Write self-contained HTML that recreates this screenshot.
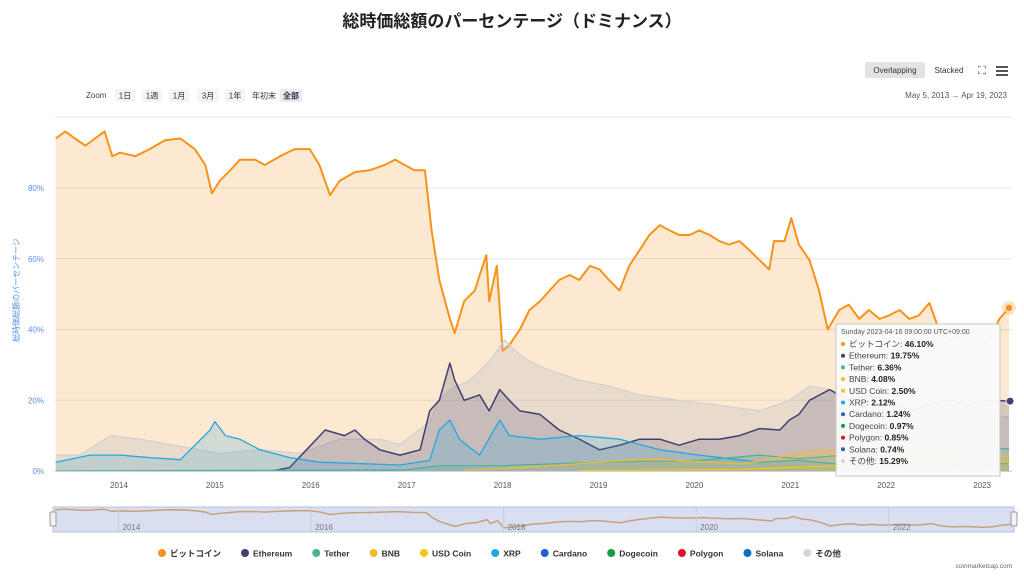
<!DOCTYPE html>
<html><head><meta charset="utf-8">
<style>
body{margin:0;background:#fff;font-family:"Liberation Sans","Noto Sans CJK JP",sans-serif;}
#wrap{position:relative;width:1024px;height:588px;overflow:hidden;}
svg text{font-family:"Liberation Sans","Noto Sans CJK JP",sans-serif;}
</style></head>
<body>
<div id="wrap">
<svg id="chart" width="1024" height="588"></svg>
</div>
<script>
const btcYears=[2013.34,2013.44,2013.54,2013.65,2013.75,2013.85,2013.93,2014.01,2014.17,2014.32,2014.48,2014.64,2014.79,2014.90,2014.97,2015.05,2015.16,2015.26,2015.42,2015.52,2015.68,2015.83,2015.99,2016.09,2016.20,2016.30,2016.46,2016.61,2016.77,2016.88,2016.98,2017.08,2017.19,2017.26,2017.34,2017.45,2017.50,2017.60,2017.71,2017.78,2017.83,2017.86,2017.94,2018.00,2018.07,2018.18,2018.28,2018.39,2018.49,2018.59,2018.70,2018.80,2018.91,2019.01,2019.11,2019.22,2019.32,2019.43,2019.53,2019.64,2019.74,2019.84,2019.95,2020.05,2020.16,2020.26,2020.36,2020.47,2020.57,2020.68,2020.78,2020.83,2020.94,2021.01,2021.09,2021.20,2021.30,2021.39,2021.51,2021.61,2021.72,2021.82,2021.93,2022.03,2022.14,2022.24,2022.34,2022.45,2022.55,2022.66,2022.76,2022.86,2022.97,2023.07,2023.18,2023.28];
const btcValues=[94,96,94,92,94,96,89,90,89,91,93.5,94,91,86.5,78.5,82,85,88,88,86.5,89,91,91,86.5,78,82,84.5,85,86.5,88,86.5,85,85,68,54,43,39,48,51,57,61,48,58,34,35.6,40,45.5,48,51,54,55.4,54,58,57,54,51,58,62.5,66.7,69.5,68,66.7,66.7,68,66.7,65,64,65,62.5,59.6,57,65,65,71.5,64,59.6,51,40,45.5,47,43,45.5,43,44,45.5,43,44,47.5,40,37,38.5,37.6,35.6,37,43,46.1];
const ethYears=[2015.60,2015.78,2016.15,2016.35,2016.46,2016.56,2016.72,2016.93,2017.14,2017.24,2017.34,2017.45,2017.50,2017.60,2017.76,2017.86,2017.97,2018.07,2018.18,2018.39,2018.59,2018.80,2019.01,2019.22,2019.43,2019.64,2019.84,2020.05,2020.26,2020.47,2020.68,2020.89,2020.99,2021.09,2021.20,2021.41,2021.61,2021.82,2022.03,2022.24,2022.45,2022.66,2022.86,2023.07,2023.28];
const ethValues=[0,1,11.6,10,11.6,9,6,4.5,6,17,20,30.5,25.7,20,21.5,17,23,20,17,16,11.6,9,6,7.3,9,9,7.3,9,9,10,12,11.6,14.4,16,20,23,20,21.5,20,17,18.6,20,18.6,20,19.75];
const otherYears=[2013.34,2013.59,2013.91,2014.22,2014.64,2015.05,2015.47,2015.89,2016.30,2016.72,2016.93,2017.24,2017.34,2017.45,2017.66,2017.86,2018.02,2018.13,2018.28,2018.49,2018.80,2019.11,2019.43,2019.84,2020.26,2020.68,2020.99,2021.20,2021.41,2021.72,2022.14,2022.66,2023.28];
const otherValues=[4.5,4.5,10,9,7,5,6,5,9,9,7.5,14,20,23,25.7,31,37,34,31,28.5,25.7,24,21.5,20,18.6,17,20,24,23,20,18.6,17,15.29];
const xrpYears=[2013.34,2013.70,2014.01,2014.32,2014.64,2014.95,2015.00,2015.11,2015.26,2015.47,2015.78,2016.09,2016.93,2017.24,2017.34,2017.45,2017.55,2017.76,2017.97,2018.07,2018.39,2018.80,2019.22,2019.64,2020.05,2020.68,2021.09,2021.61,2023.28];
const xrpValues=[2.5,4.5,4.5,3.8,3.2,11.6,14,10,9,6,3.8,2.5,1.7,3,11.6,14.4,9,4.5,14.4,10,9,10,9,6,4.5,2.5,3,1.7,2.12];
const usdtYears=[2013.34,2017.0,2017.34,2017.97,2019.01,2020.05,2020.68,2021.09,2021.82,2022.66,2023.28];
const usdtValues=[0,0.3,1.5,1.5,2.5,3,4.5,3.5,5,6,6.36];
const bnbYears=[2017.6,2018.5,2019.5,2020.5,2021.3,2022.0,2023.28];
const bnbValues=[0.2,1.5,3.5,2,6,4.5,4.08];
const usdcYears=[2018.8,2020.5,2021.5,2022.4,2023.28];
const usdcValues=[0.1,0.5,1.5,4.5,2.5];
const yTicks=[0,20,40,60,80];
const xTicks=[2014,2015,2016,2017,2018,2019,2020,2021,2022,2023];
const navTicks=[2014,2016,2018,2020,2022];
const legendNames=["ビットコイン","Ethereum","Tether","BNB","USD Coin","XRP","Cardano","Dogecoin","Polygon","Solana","その他"];
const legendColors=["#f7931a","#3f3f72","#50af95","#f3ba2f","#f5c518","#23a7e0","#2060d0","#1a9a3a","#e0102a","#1070c0","#d6d6d6"];
const tipValues=["46.10%","19.75%","6.36%","4.08%","2.50%","2.12%","1.24%","0.97%","0.85%","0.74%","15.29%"];

const NS="http://www.w3.org/2000/svg";
const svg=document.getElementById('chart');
function el(tag,attrs,parent){const e=document.createElementNS(NS,tag);for(const k in attrs)e.setAttribute(k,attrs[k]);(parent||svg).appendChild(e);return e;}
function tx(x,y,s,attrs,parent){const e=el('text',Object.assign({x:x,y:y},attrs),parent);e.textContent=s;return e;}
const X=y=>119+(y-2014)*95.9;
const Y=v=>471-v*3.5375;

const title=tx(512,27,"総時価総額のパーセンテージ（ドミナンス）",{'text-anchor':'middle','font-size':'17','font-weight':'bold',fill:'#222'});



// gridlines
yTicks.concat([100]).forEach(v=>{
 const g=el('line',{x1:55,x2:1012,y1:Y(v),y2:Y(v),stroke:'#e6e6e6','stroke-width':1});
 
 
});
yTicks.forEach(v=>{
 const t=tx(44,Y(v)+3,v+'%',{'text-anchor':'end','font-size':'8',fill:'#5a8ee6'});
 
 
});
const yt=tx(0,0,"総時価総額のパーセンテージ",{'font-size':'8',fill:'#5a8ee6','text-anchor':'middle',transform:'translate(19,290) rotate(-90)'});



function series(years,vals,color,fill,name,w){
 let d='';years.forEach((yy,i)=>{d+=(i?'L':'M')+X(yy).toFixed(1)+','+Y(vals[i]).toFixed(1);});
 const a=el('path',{d:d+'L'+X(years[years.length-1]).toFixed(1)+','+Y(0)+'L'+X(years[0]).toFixed(1)+','+Y(0)+'Z',fill:fill,stroke:'none'});
 
 
 const l=el('path',{d:d,fill:'none',stroke:color,'stroke-width':w||1.5,'stroke-linejoin':'round'});
 
 
}
series(btcYears,btcValues,'#f7931a','rgba(247,147,26,0.2)','bitcoin',2);
series(otherYears,otherValues,'#d0d0d0','rgba(190,190,190,0.3)','others',1.2);
series(ethYears,ethValues,'#3f3f72','rgba(63,63,114,0.2)','ethereum',1.5);
series(xrpYears,xrpValues,'#23a7e0','rgba(35,167,224,0.2)','xrp',1.3);
series(usdtYears,usdtValues,'#50af95','rgba(80,175,149,0.2)','tether',1.2);
series(bnbYears,bnbValues,'#f3ba2f','rgba(243,186,47,0.2)','bnb',1.2);
series(usdcYears,usdcValues,'#f5c518','rgba(245,197,24,0.2)','usd-coin',1.2);

el('line',{x1:55,x2:1012,y1:471.5,y2:471.5,stroke:'#ccd6eb'});
xTicks.forEach(y=>{
 const t=tx(X(y),488,String(y),{'text-anchor':'middle','font-size':'8',fill:'#555'});
 
 
});

// end markers
const last=btcValues.length-1;
const m=el('circle',{cx:X(btcYears[last]),cy:Y(btcValues[last]),r:4,fill:'#f7931a',stroke:'#fff','stroke-width':1.5});


el('circle',{cx:X(btcYears[last]),cy:Y(btcValues[last]),r:7,fill:'rgba(247,147,26,0.25)'});
const em=el('circle',{cx:1010,cy:Y(ethValues[ethValues.length-1]),r:4,fill:'#3f3f72',stroke:'#fff'});



// controls
const zl=tx(86,98,'Zoom',{'font-size':'8',fill:'#444'});


const zb=[['1日',115,20],['1週',142,20],['1月',169,20],['3月',197,22],['1年',225,20],['年初末',250,28],['全部',280,22]];
zb.forEach((b,i)=>{
 const r=el('rect',{x:b[1],y:89,width:b[2],height:13,rx:2,fill:i==6?'#e6ebf5':(i==5?'#fff':'#f4f4f4')});
 
 
 const t=tx(b[1]+b[2]/2,98.5,b[0],{'text-anchor':'middle','font-size':'8',fill:'#333','font-weight':i==6?'bold':'normal'});
 
 
});
const dr=tx(1007,98,'May 5, 2013  →  Apr 19, 2023',{'text-anchor':'end','font-size':'8',fill:'#555'});


const ov=el('rect',{x:865,y:62,width:60,height:16,rx:2,fill:'#e3e3e3'});


tx(895,73,'Overlapping',{'text-anchor':'middle','font-size':'8',fill:'#333'});
const st=tx(949,73,'Stacked',{'text-anchor':'middle','font-size':'8',fill:'#333'});


const fs=tx(982,74,'⛶',{'text-anchor':'middle','font-size':'11',fill:'#555'});


[66,70,74].forEach(y=>{const l=el('rect',{x:996,y:y,width:12,height:2,fill:'#555'});
 
 });

// navigator
const nb=el('rect',{x:53,y:507,width:961,height:25,fill:'#d9dff0',stroke:'#b8c2dd'});


const NX=y=>55+(y-2013.34)*(957/9.94);
const NY=v=>532-(v-20)*0.3;
let nd='';btcYears.forEach((yy,i)=>{nd+=(i?'L':'M')+NX(yy).toFixed(1)+','+NY(btcValues[i]).toFixed(1);});
const nl=el('path',{d:nd,fill:'none',stroke:'#c8a07a','stroke-width':1.5});


navTicks.forEach(y=>{
 el('line',{x1:NX(y),x2:NX(y),y1:507,y2:532,stroke:'#c5cce0'});
 const t=tx(NX(y)+4,530,String(y),{'font-size':'8',fill:'#777'});
 
 
});
[53,1014].forEach(x=>{const h=el('rect',{x:x-3,y:512,width:6,height:14,rx:1,fill:'#f2f2f2',stroke:'#999'});
 
 });

// legend
let lx=158;
legendNames.forEach((n,i)=>{
 const g=el('g',{});
 
 
 el('circle',{cx:lx+4,cy:553,r:4,fill:legendColors[i]},g);
 const t=tx(lx+12,556.5,n,{'font-size':'8.5','font-weight':'bold',fill:'#333'},g);
 lx+=12+t.getComputedTextLength()+20;
});
const cr=tx(1012,568,'coinmarketcap.com',{'text-anchor':'end','font-size':'6.5',fill:'#666'});



// tooltip
const tg=el('g',{});


el('rect',{x:836,y:324,width:164,height:152,fill:'rgba(250,250,250,0.96)',stroke:'#c8c8c8'},tg);
tx(841,334,'Sunday 2023-04-16 09:00:00 UTC+09:00',{'font-size':'7',fill:'#555'},tg);
legendNames.forEach((n,i)=>{
 const y=347+i*11.7;
 el('circle',{cx:843,cy:y-3,r:2,fill:legendColors[i]},tg);
 const t=tx(849,y,'',{'font-size':'8.5',fill:'#444'},tg);
 const a=document.createElementNS(NS,'tspan');a.textContent=n+': ';t.appendChild(a);
 const b=document.createElementNS(NS,'tspan');b.setAttribute('font-weight','bold');b.setAttribute('fill','#222');b.textContent=tipValues[i];t.appendChild(b);
});
</script>
</body></html>
